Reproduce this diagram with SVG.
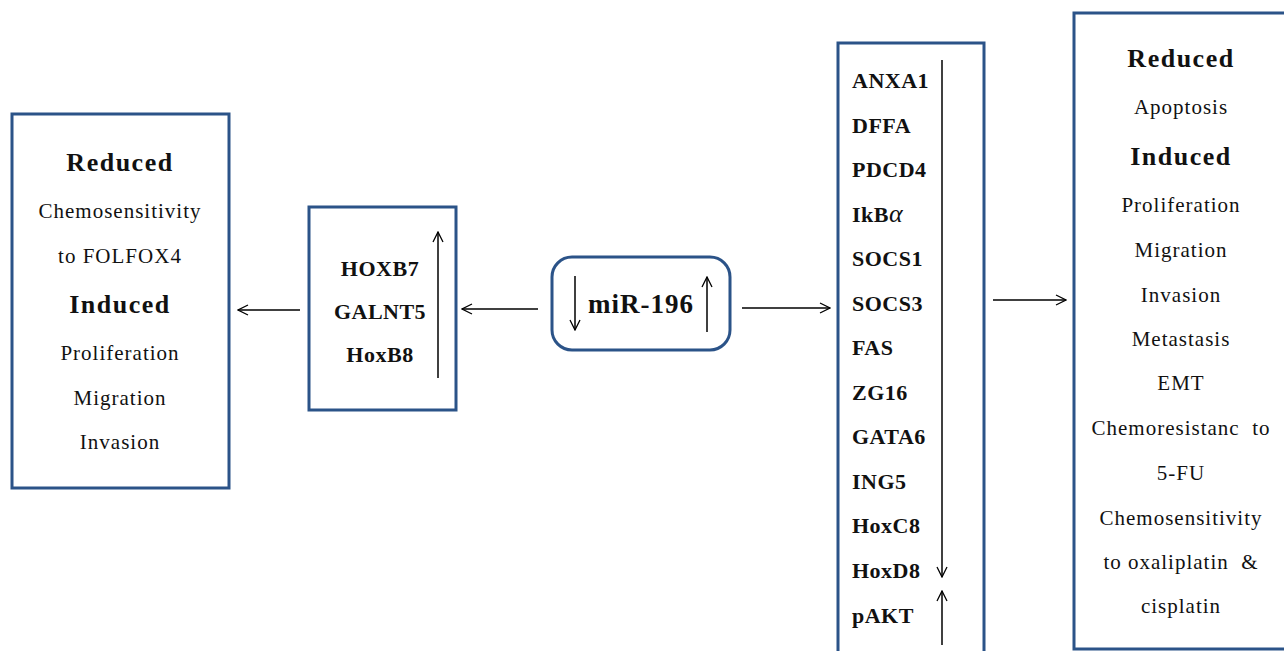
<svg xmlns="http://www.w3.org/2000/svg" width="1284" height="651" viewBox="0 0 1284 651">
<defs>
<marker id="ah" viewBox="0 0 12 12" refX="11" refY="6" markerWidth="12" markerHeight="12" markerUnits="userSpaceOnUse" orient="auto">
<path d="M1,1 L11,6 L1,11" fill="none" stroke="#000" stroke-width="1.3"/>
</marker>
</defs>
<style>
.box{fill:#fff;stroke:#2b5388;stroke-width:3}
.ln{stroke:#000;stroke-width:1.5;fill:none}
.t{font-family:"Liberation Serif","Times New Roman",serif;font-size:21px;letter-spacing:1px;text-anchor:middle;fill:#111}
.h{font-family:"Liberation Serif","Times New Roman",serif;font-size:26px;font-weight:bold;letter-spacing:1.5px;text-anchor:middle;fill:#111}
.g{font-family:"Liberation Serif","Times New Roman",serif;font-size:22px;font-weight:bold;letter-spacing:0.5px;fill:#111}
</style>
<rect width="1284" height="651" fill="#fff"/>
<g id="left-box">
<rect class="box" x="12" y="114" width="217" height="374"/>
<text class="h" x="120" y="171">Reduced</text>
<text class="t" x="120" y="218">Chemosensitivity</text>
<text class="t" x="120" y="263">to FOLFOX4</text>
<text class="h" x="120" y="313">Induced</text>
<text class="t" x="120" y="360">Proliferation</text>
<text class="t" x="120" y="405">Migration</text>
<text class="t" x="120" y="449">Invasion</text>
</g>
<g id="targets-up">
<rect class="box" x="309" y="207" width="147" height="203"/>
<text class="g" x="380" y="276" text-anchor="middle">HOXB7</text>
<text class="g" x="380" y="319" text-anchor="middle">GALNT5</text>
<text class="g" x="380" y="362" text-anchor="middle">HoxB8</text>
<line class="ln" x1="438" y1="378" x2="438" y2="232" marker-end="url(#ah)"/>
</g>
<g id="mir196">
<rect class="box" x="552" y="257" width="178" height="93" rx="20" ry="20"/>
<text class="h" x="641" y="313" style="font-size:27px;letter-spacing:1px">miR-196</text>
<line class="ln" x1="575" y1="276" x2="575" y2="330" marker-end="url(#ah)"/>
<line class="ln" x1="707" y1="332" x2="707" y2="277" marker-end="url(#ah)"/>
</g>
<g id="targets-down">
<rect class="box" x="838" y="43" width="146" height="620"/>
<text class="g" x="852" y="88">ANXA1</text>
<text class="g" x="852" y="133">DFFA</text>
<text class="g" x="852" y="177">PDCD4</text>
<text class="g" x="852" y="222">IkB<tspan style="font-size:26px;font-style:italic;font-weight:normal">α</tspan></text>
<text class="g" x="852" y="266">SOCS1</text>
<text class="g" x="852" y="311">SOCS3</text>
<text class="g" x="852" y="355">FAS</text>
<text class="g" x="852" y="400">ZG16</text>
<text class="g" x="852" y="444">GATA6</text>
<text class="g" x="852" y="489">ING5</text>
<text class="g" x="852" y="533">HoxC8</text>
<text class="g" x="852" y="578">HoxD8</text>
<text class="g" x="852" y="623">pAKT</text>
<line class="ln" x1="942" y1="60" x2="942" y2="577" marker-end="url(#ah)"/>
<line class="ln" x1="942" y1="645" x2="942" y2="591" marker-end="url(#ah)"/>
</g>
<g id="right-box">
<rect class="box" x="1074" y="13" width="220" height="636"/>
<text class="h" x="1181" y="67">Reduced</text>
<text class="t" x="1181" y="114">Apoptosis</text>
<text class="h" x="1181" y="165">Induced</text>
<text class="t" x="1181" y="212">Proliferation</text>
<text class="t" x="1181" y="257">Migration</text>
<text class="t" x="1181" y="302">Invasion</text>
<text class="t" x="1181" y="346">Metastasis</text>
<text class="t" x="1181" y="390">EMT</text>
<text class="t" x="1181" y="435" xml:space="preserve">Chemoresistanc  to</text>
<text class="t" x="1181" y="480">5-FU</text>
<text class="t" x="1181" y="525">Chemosensitivity</text>
<text class="t" x="1181" y="569" xml:space="preserve">to oxaliplatin  &amp;</text>
<text class="t" x="1181" y="613">cisplatin</text>
</g>
<g id="connectors">
<line class="ln" x1="300" y1="310" x2="238" y2="310" marker-end="url(#ah)"/>
<line class="ln" x1="538" y1="309" x2="462" y2="309" marker-end="url(#ah)"/>
<line class="ln" x1="742" y1="308" x2="830" y2="308" marker-end="url(#ah)"/>
<line class="ln" x1="993" y1="300" x2="1066" y2="300" marker-end="url(#ah)"/>
</g>
</svg>
